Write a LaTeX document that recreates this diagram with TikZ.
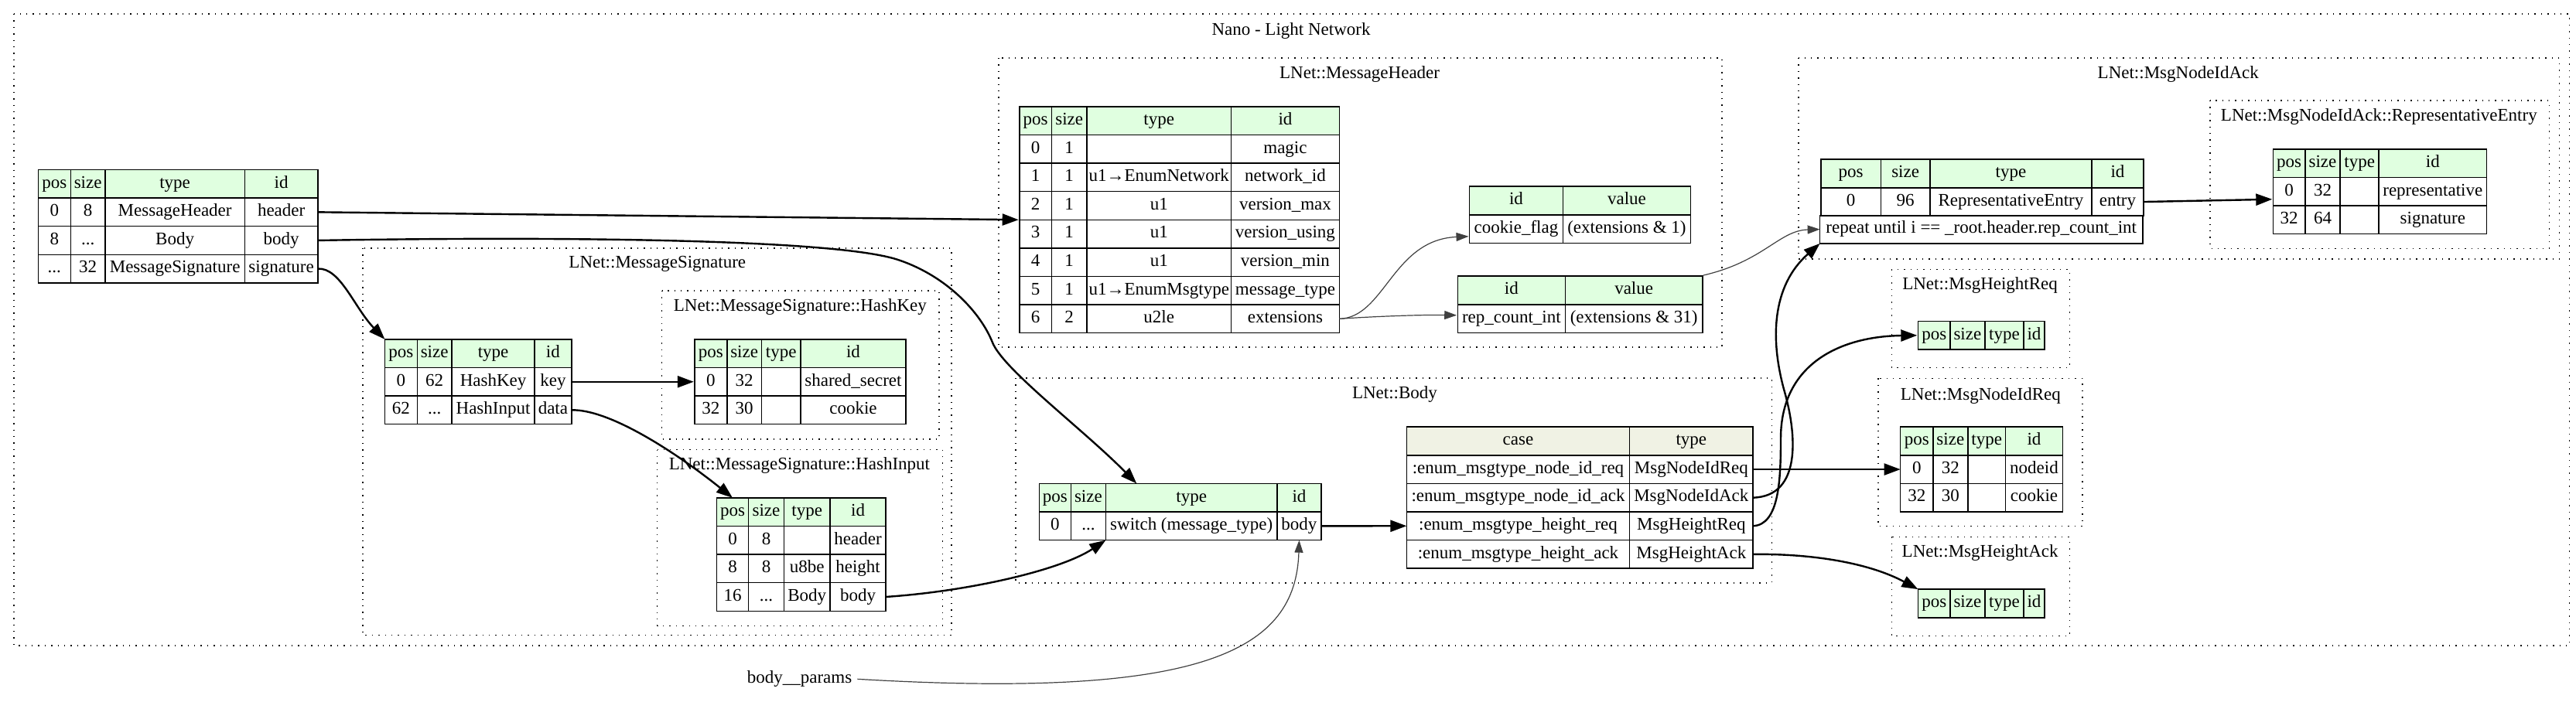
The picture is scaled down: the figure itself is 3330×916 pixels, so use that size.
\documentclass[tikz,border=0pt]{standalone}
\usepackage{fontspec}
\setmainfont{Liberation Serif}
\usetikzlibrary{matrix}
\usetikzlibrary{arrows.meta}

\definecolor{hdrgreen}{HTML}{E0FFE0}
\definecolor{casebeige}{HTML}{F0F2E4}
\definecolor{instgray}{HTML}{404040}

\begin{document}
\begin{tikzpicture}[x=0.5pt, y=-0.5pt, font=\fontsize{11.5}{13}\selectfont,
	cellbox/.style={draw, line width=0.75pt, minimum height=18.3pt, inner xsep=1pt, inner ysep=0pt, outer sep=0pt, anchor=center, text height=1.6ex, text depth=0.45ex},
	tbl/.style={matrix of nodes, nodes in empty cells, anchor=north west, inner sep=0pt, column sep=-0.75pt, row sep=-0.75pt, nodes={cellbox}, row 1/.style={nodes={fill=hdrgreen}}},
	colw/.style 2 args={column #1/.style={nodes={minimum width=#2}}},
	cluster/.style={line width=0.7pt, dash pattern=on 0.7pt off 3.5pt},
	seq/.style={-{Triangle[length=10.5pt, width=7.5pt]}, line width=1.2pt},
	inst/.style={-{Triangle[length=8pt, width=5.5pt]}, line width=0.6pt, draw=instgray, fill=none}]
	\useasboundingbox (0,0) rectangle (3330,916);

	% clusters
	\draw[cluster] (18,18) rectangle (3321.5,835);
	\node (nanotitle) at (1669,40) {Nano - Light Network};
	\draw[cluster] (1291,75) rectangle (2226,449);
	\node (hdrtitle) at (1757.6,96) {LNet::MessageHeader};
	\draw[cluster] (2325,75) rectangle (3308.5,335);
	\node (acktitle) at (2815.8,96) {LNet::MsgNodeIdAck};
	\draw[cluster] (2857,130) rectangle (3295.4,321.7);
	\node (renttitle) at (3075.3,150.7) {LNet::MsgNodeIdAck::RepresentativeEntry};
	\draw[cluster] (469,321) rectangle (1230,821.7);
	\node (sigtitle) at (849.8,341.7) {LNet::MessageSignature};
	\draw[cluster] (855.5,376) rectangle (1214,568);
	\node (hkeytitle) at (1034.4,397.3) {LNet::MessageSignature::HashKey};
	\draw[cluster] (849.6,581.5) rectangle (1218.7,809.3);
	\node (hinptitle) at (1033.4,601.7) {LNet::MessageSignature::HashInput};
	\draw[cluster] (1313,489) rectangle (2290.2,754);
	\node (bodytitle) at (1803,510) {LNet::Body};
	\draw[cluster] (2445.4,348.3) rectangle (2675.2,475.7);
	\node (hreqtitle) at (2559.6,369.3) {LNet::MsgHeightReq};
	\draw[cluster] (2428,489.3) rectangle (2692,680.7);
	\node (nreqtitle) at (2560.3,511.7) {LNet::MsgNodeIdReq};
	\draw[cluster] (2445.4,694.3) rectangle (2675.2,822.7);
	\node (hacktitle) at (2559.6,715) {LNet::MsgHeightAck};

	% tables
	\matrix (main) [tbl, colw={1}{21pt}, colw={2}{22.3pt}, colw={3}{90.2pt}, colw={4}{47.3pt}] at (48.2,218.3) {
		pos & size & type & id \\
		0 & 8 & MessageHeader & header \\
		8 & ... & Body & body \\
		... & 32 & MessageSignature & signature \\
	};
	\matrix (hdr) [tbl, colw={1}{20.85pt}, colw={2}{22.65pt}, colw={3}{93.4pt}, colw={4}{69.8pt}] at (1316.7,136.7) {
		pos & size & type & id \\
		0 & 1 & & magic \\
		1 & 1 & u1→EnumNetwork & network\_id \\
		2 & 1 & u1 & version\_max \\
		3 & 1 & u1 & version\_using \\
		4 & 1 & u1 & version\_min \\
		5 & 1 & u1→EnumMsgtype & message\_type \\
		6 & 2 & u2le & extensions \\
	};
	\matrix (cookie) [tbl, colw={1}{60.3pt}, colw={2}{82.7pt}] at (1898.5,240) {
		id & value \\
		cookie\_flag & (extensions \& 1) \\
	};
	\matrix (repcnt) [tbl, colw={1}{69.5pt}, colw={2}{88.8pt}] at (1883.2,356) {
		id & value \\
		rep\_count\_int & (extensions \& 31) \\
	};
	\matrix (sig) [tbl, colw={1}{20.9pt}, colw={2}{22.4pt}, colw={3}{53.5pt}, colw={4}{23.85pt}] at (496.3,437.7) {
		pos & size & type & id \\
		0 & 62 & HashKey & key \\
		62 & ... & HashInput & data \\
	};
	\matrix (hkey) [tbl, colw={1}{20.9pt}, colw={2}{22.4pt}, colw={3}{25.1pt}, colw={4}{68.2pt}] at (896.8,437.7) {
		pos & size & type & id \\
		0 & 32 & & shared\_secret \\
		32 & 30 & & cookie \\
	};
	\matrix (hinp) [tbl, colw={1}{20.65pt}, colw={2}{22.85pt}, colw={3}{29.85pt}, colw={4}{36.05pt}] at (925.2,642.7) {
		pos & size & type & id \\
		0 & 8 & & header \\
		8 & 8 & u8be & height \\
		16 & ... & Body & body \\
	};
	\matrix (sw) [tbl, colw={1}{20.5pt}, colw={2}{22.45pt}, colw={3}{110.9pt}, colw={4}{28.3pt}] at (1342.3,624.3) {
		pos & size & type & id \\
		0 & ... & switch (message\_type) & body \\
	};
	\matrix (cases) [tbl, row 1/.style={nodes={fill=casebeige}}, colw={1}{144.15pt}, colw={2}{79.7pt}] at (1817.2,551) {
		case & type \\
		:enum\_msgtype\_node\_id\_req & MsgNodeIdReq \\
		:enum\_msgtype\_node\_id\_ack & MsgNodeIdAck \\
		:enum\_msgtype\_height\_req & MsgHeightReq \\
		:enum\_msgtype\_height\_ack & MsgHeightAck \\
	};
	\matrix (ack) [tbl, colw={1}{38.75pt}, colw={2}{31.85pt}, colw={3}{104.5pt}, colw={4}{33.5pt}] at (2352.6,205) {
		pos & size & type & id \\
		0 & 96 & RepresentativeEntry & entry \\
	};
	\node[cellbox, anchor=north west, minimum width=208.6pt] (ackrep) at (2352.6,278.3) {repeat until i == \_root.header.rep\_count\_int};
	\matrix (rent) [tbl, colw={1}{20.7pt}, colw={2}{22.65pt}, colw={3}{25pt}, colw={4}{69.65pt}] at (2937.3,191.7) {
		pos & size & type & id \\
		0 & 32 & & representative \\
		32 & 64 & & signature \\
	};
	\matrix (hreq) [tbl, colw={1}{20.75pt}, colw={2}{22.45pt}, colw={3}{25.1pt}, colw={4}{13.4pt}] at (2478.3,414.3) {
		pos & size & type & id \\
	};
	\matrix (nreq) [tbl, colw={1}{21.1pt}, colw={2}{22.45pt}, colw={3}{24.45pt}, colw={4}{36.8pt}] at (2455.5,551) {
		pos & size & type & id \\
		0 & 32 & & nodeid \\
		32 & 30 & & cookie \\
	};
	\matrix (hack) [tbl, colw={1}{20.75pt}, colw={2}{22.45pt}, colw={3}{25.1pt}, colw={4}{13.4pt}] at (2478.3,761) {
		pos & size & type & id \\
	};
	\node (params) at (1033.5,878.3) {body\_\_params};

	% edges
	\draw[seq] (main-2-4.east) -- (hdr.west);
	\draw[seq] (main-3-4.east) .. controls (700,306) and (1083,308) .. (1163,336.7) .. controls (1225,358) and (1268,405) .. (1283,443) .. controls (1297,478) and (1400,555) .. ([xshift=20pt]sw-1-3.north west);
	\draw[seq] (main-4-4.east) .. controls (440,346) and (458,398) .. (sig-1-1.north west);
	\draw[seq] (sig-2-4.east) -- (hkey.west);
	\draw[seq] (sig-3-4.east) .. controls (790,529) and (880,590) .. (hinp-1-1.north);
	\draw[seq] (hinp-4-4.east) .. controls (1250,765) and (1370,738) .. (sw-2-3.south west);
	\draw[seq] (sw-2-4.east) -- (cases-4-1.west);
	\draw[seq] (cases-2-2.east) -- (nreq-2-1.west);
	\draw[seq] (cases-3-2.east) .. controls (2330,642) and (2322,560) .. (2307,507) .. controls (2288,440) and (2290,370) .. (ackrep.south west);
	\draw[seq] (cases-4-2.east) .. controls (2300,679) and (2302,620) .. (2302,567) .. controls (2302,470) and (2380,435) .. (hreq.west);
	\draw[seq] (cases-5-2.east) .. controls (2350,716) and (2420,730) .. (hack-1-1.north west);
	\draw[seq] (ack-2-4.east) -- ([yshift=-5pt]rent.west);
	\draw[inst] (hdr-8-4.east) .. controls (1790,411) and (1800,310) .. ([yshift=-14pt]cookie.west);
	\draw[inst] (hdr-8-4.east) .. controls (1780,409) and (1840,407) .. ([yshift=-7pt]repcnt.west);
	\draw[inst] (repcnt.north east) .. controls (2280,338) and (2300,298) .. (ackrep.west);
	\draw[inst] (params.east) .. controls (1560,905) and (1675,840) .. (sw-2-4.south);
\end{tikzpicture}
\end{document}
